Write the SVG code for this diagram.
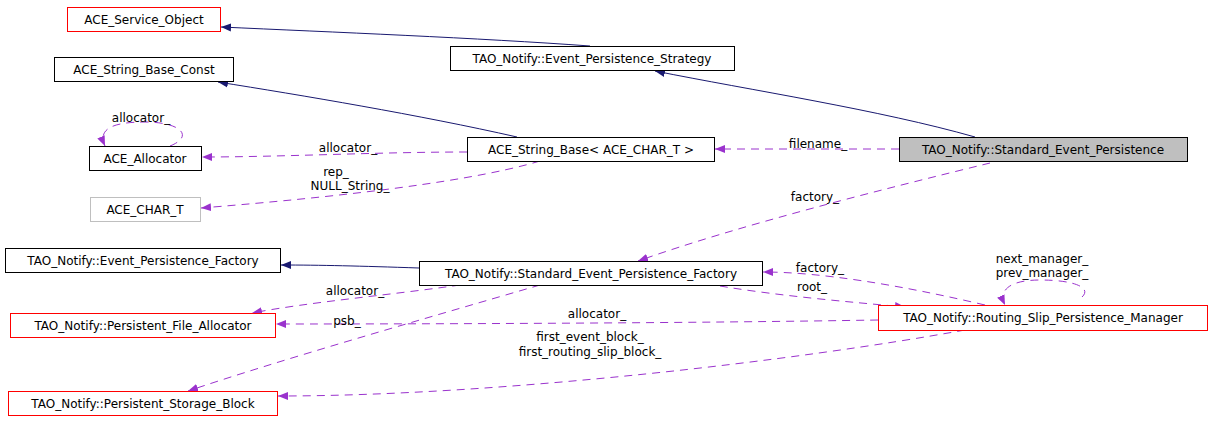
<svg xmlns="http://www.w3.org/2000/svg" width="1213" height="423" viewBox="0 0 1213 423">
<style>
text{font-family:"DejaVu Sans",sans-serif;font-size:12px;fill:#000}
.n rect{fill:#fff;stroke:#000;stroke-width:1}
.n.r rect{stroke:#f00}
.n.g rect{stroke:#bfbfbf}
.e{fill:none;stroke:#191970;stroke-width:1}
.d{fill:none;stroke:#9a32cd;stroke-width:1;stroke-dasharray:8,6}
.c{text-anchor:middle}
</style>
<defs>
<marker id="ab" viewBox="0 0 10 10" refX="10" refY="5" markerWidth="10" markerHeight="10" orient="auto" markerUnits="userSpaceOnUse"><path d="M0,1L10,5L0,9z" fill="#191970"/></marker>
<marker id="ap" viewBox="0 0 10 10" refX="10" refY="5" markerWidth="10" markerHeight="10" orient="auto" markerUnits="userSpaceOnUse"><path d="M0,1L10,5L0,9z" fill="#9a32cd"/></marker>
</defs>
<g id="connectors">
<path class="e" marker-end="url(#ab)" d="M590,46 C480,38 330,32 221,27"/>
<path class="e" marker-end="url(#ab)" d="M975,137 C880,110 750,90 655,71"/>
<path class="e" marker-end="url(#ab)" d="M517,137 C420,115 300,95 218,82"/>
<path class="e" marker-end="url(#ab)" d="M419,268 C360,266 320,265 281,265"/>
<path class="d" marker-end="url(#ap)" d="M467,152 C380,152 280,157 202,157"/>
<path class="d" marker-end="url(#ap)" d="M170,146 C195,136 180,122 145,122 C110,122 98,130 105,146"/>
<path class="d" marker-end="url(#ap)" d="M540,161 C460,185 300,200 201,208"/>
<path class="d" marker-end="url(#ap)" d="M899,149 L715,149"/>
<path class="d" marker-end="url(#ap)" d="M990,163 C880,190 740,225 638,261"/>
<path class="d" marker-end="url(#ap)" d="M460,285 C390,295 310,302 252,313"/>
<path class="d" marker-end="url(#ap)" d="M540,285 C420,320 280,360 188,391"/>
<path class="d" marker-end="url(#ap)" d="M720,286 C780,296 850,302 905,307"/>
<path class="d" marker-end="url(#ap)" d="M985,305 C900,285 820,272 763,272"/>
<path class="d" marker-end="url(#ap)" d="M1082,297 C1092,288 1075,280 1040,280 C1010,280 998,290 1005,305"/>
<path class="d" marker-end="url(#ap)" d="M878,320 C700,323 450,324 276,324"/>
<path class="d" marker-end="url(#ap)" d="M965,330 C800,360 500,396 278,396"/>
</g>
<g id="n1" class="n r"><rect x="67.500" y="7.500" width="153" height="24"/><text x="144" y="24" class="c">ACE_Service_Object</text></g>
<g id="n2" class="n"><rect x="450.500" y="46.500" width="284" height="24"/><text x="592" y="63" class="c">TAO_Notify::Event_Persistence_Strategy</text></g>
<g id="n3" class="n"><rect x="54.500" y="57.500" width="179" height="24"/><text x="144" y="74" class="c">ACE_String_Base_Const</text></g>
<g id="n4" class="n"><rect x="89.500" y="146.500" width="112" height="24"/><text x="145" y="163" class="c">ACE_Allocator</text></g>
<g id="n5" class="n"><rect x="467.500" y="137.500" width="247" height="24"/><text x="591" y="154" class="c">ACE_String_Base&lt; ACE_CHAR_T &gt;</text></g>
<g id="n6" class="n"><rect x="899.500" y="137.500" width="288" height="24" style="fill:#bfbfbf"/><text x="1043" y="154" class="c">TAO_Notify::Standard_Event_Persistence</text></g>
<g id="n7" class="n g"><rect x="90.500" y="197.500" width="110" height="24"/><text x="145" y="214" class="c">ACE_CHAR_T</text></g>
<g id="n8" class="n"><rect x="5.500" y="248.500" width="275" height="24"/><text x="143" y="265" class="c">TAO_Notify::Event_Persistence_Factory</text></g>
<g id="n9" class="n"><rect x="419.500" y="261.500" width="343" height="24"/><text x="591" y="278" class="c">TAO_Notify::Standard_Event_Persistence_Factory</text></g>
<g id="n10" class="n r"><rect x="10.500" y="313.500" width="265" height="24"/><text x="143" y="330" class="c">TAO_Notify::Persistent_File_Allocator</text></g>
<g id="n11" class="n r"><rect x="878.500" y="305.500" width="329" height="25"/><text x="1043" y="322" class="c">TAO_Notify::Routing_Slip_Persistence_Manager</text></g>
<g id="n12" class="n r"><rect x="8.500" y="391.500" width="269" height="24"/><text x="143" y="408" class="c">TAO_Notify::Persistent_Storage_Block</text></g>
<g id="labels">
<text x="141" y="122" class="c">allocator_</text>
<text x="348" y="152" class="c">allocator_</text>
<text x="336" y="176" class="c">rep_</text>
<text x="350" y="190" class="c">NULL_String_</text>
<text x="818" y="148" class="c">filename_</text>
<text x="815" y="201" class="c">factory_</text>
<text x="355" y="295" class="c">allocator_</text>
<text x="347" y="325" class="c">psb_</text>
<text x="820" y="272" class="c">factory_</text>
<text x="812" y="291" class="c">root_</text>
<text x="1042" y="263" class="c">next_manager_</text>
<text x="1042" y="277" class="c">prev_manager_</text>
<text x="597" y="318" class="c">allocator_</text>
<text x="590" y="341" class="c">first_event_block_</text>
<text x="590" y="356" class="c">first_routing_slip_block_</text>
</g>
</svg>
